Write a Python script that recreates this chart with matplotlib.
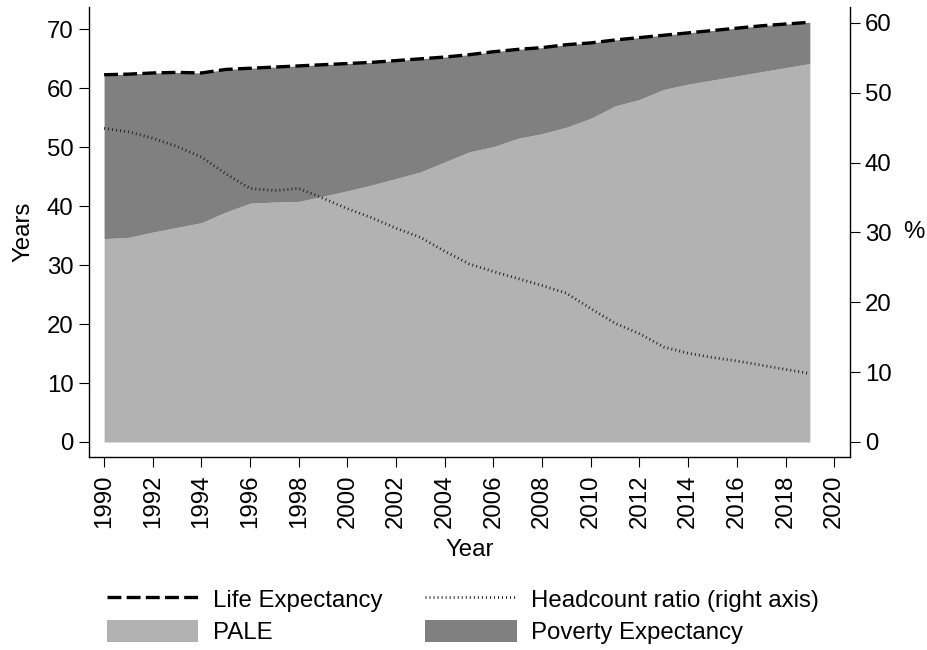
import matplotlib.pyplot as plt
from matplotlib.lines import Line2D
from matplotlib.patches import Patch

years = list(range(1990, 2020))
life_exp = [62.3, 62.4, 62.6, 62.7, 62.6, 63.2, 63.4, 63.6, 63.8, 64.0,
            64.2, 64.4, 64.7, 65.0, 65.3, 65.7, 66.2, 66.6, 66.9, 67.4,
            67.7, 68.2, 68.6, 69.0, 69.4, 69.8, 70.2, 70.6, 70.9, 71.2]
pale = [34.5, 34.7, 35.6, 36.4, 37.2, 39.0, 40.5, 40.7, 40.8, 41.7,
        42.6, 43.6, 44.7, 45.8, 47.5, 49.2, 50.1, 51.5, 52.3, 53.4,
        54.9, 57.0, 58.1, 59.8, 60.7, 61.4, 62.1, 62.8, 63.5, 64.2]
headcount = [44.9, 44.4, 43.5, 42.3, 40.8, 38.4, 36.3, 36.0, 36.3, 34.9,
             33.4, 32.1, 30.6, 29.3, 27.3, 25.5, 24.4, 23.4, 22.4, 21.3,
             19.1, 17.0, 15.5, 13.6, 12.7, 12.1, 11.6, 11.0, 10.4, 9.8]
x_ticks = list(range(1990, 2021, 2))
left_ticks = list(range(0, 71, 10))
right_ticks = list(range(0, 61, 10))

plt.rcParams['font.family'] = ['Liberation Sans', 'DejaVu Sans']
plt.rcParams['font.size'] = 17.3
plt.rcParams['lines.scale_dashes'] = False

light = '#b2b2b2'
dark = '#808080'
le_style = (0, (10, 3.8))
hc_style = (0, (0.7, 2.2))

fig = plt.figure(figsize=(9.27, 6.5), dpi=100)
ax = fig.add_axes([89 / 927, 1 - 457 / 650, (850 - 89) / 927, (457 - 7) / 650])

ax.fill_between(years, 0, pale, color=light, lw=0)
ax.fill_between(years, pale, life_exp, color=dark, lw=0)
ax.plot(years, life_exp, color='black', lw=2.4, linestyle=le_style)

ax.set_xlim(1989.38, 2020.65)
ax.set_ylim(-2.55, 73.79)
ax.set_xticks(x_ticks)
ax.set_yticks(left_ticks)
ax.tick_params(axis='x', rotation=90, length=7.2, width=0.8, pad=5.5)
ax.tick_params(axis='y', length=7.2, width=0.8, pad=4.0)
ax.set_xlabel('Year', labelpad=8)
ax.set_ylabel('Years', labelpad=9)

ax2 = ax.twinx()
ax2.plot(years, headcount, color='#222222', lw=2.0, linestyle=hc_style)
ax2.set_ylim(-2.15, 62.28)
ax2.set_yticks(right_ticks)
ax2.tick_params(axis='y', length=7.2, width=0.8, pad=3.6)
ax2.set_ylabel('%', rotation=0, ha='left', va='center')
ax2.yaxis.set_label_coords((903 - 89) / 761, 0.5)

for a in (ax, ax2):
    a.spines['top'].set_visible(False)
    for s in a.spines.values():
        s.set_linewidth(1.0)
ax2.spines['left'].set_visible(False)
ax2.spines['bottom'].set_visible(False)
ax.spines['right'].set_visible(False)

handles = [
    Line2D([], [], color='black', lw=2.4, linestyle=le_style),
    Patch(facecolor=light, edgecolor='none'),
    Line2D([], [], color='#222222', lw=2.0, linestyle=hc_style),
    Patch(facecolor=dark, edgecolor='none'),
]
labels = ['Life Expectancy', 'PALE', 'Headcount ratio (right axis)', 'Poverty Expectancy']
fig.legend(handles, labels, ncol=2, loc='upper left',
           bbox_to_anchor=(107 / 927, 1 - 588 / 650), frameon=False,
           borderpad=0, borderaxespad=0, handlelength=3.8, handleheight=1.0,
           handletextpad=0.6, columnspacing=1.8, labelspacing=0.35)

fig.savefig('out.png', dpi=100)
plt.close(fig)
